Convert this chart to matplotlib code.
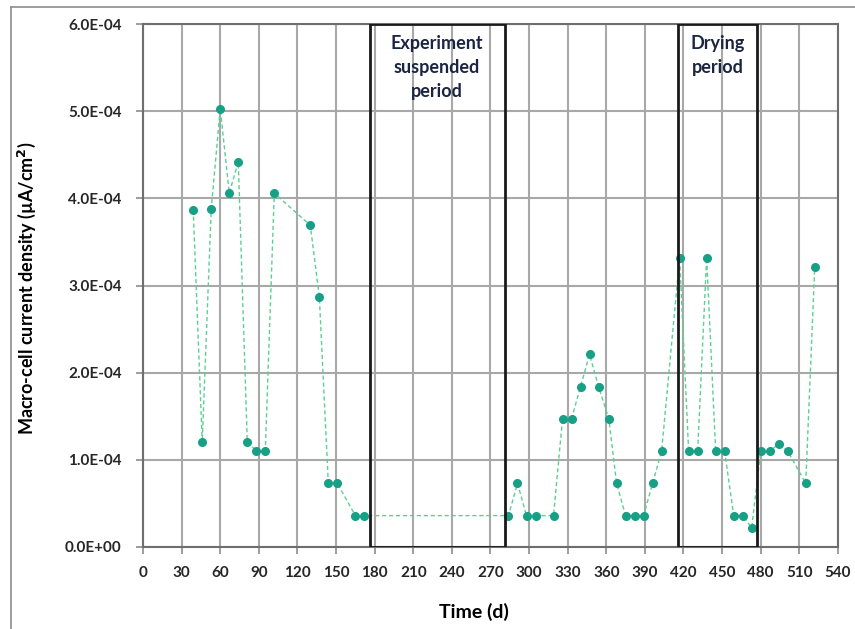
import matplotlib
matplotlib.use("Agg")
import matplotlib.pyplot as plt
from matplotlib.lines import Line2D
from matplotlib.patches import Rectangle
from matplotlib.ticker import FuncFormatter, MultipleLocator

plt.rcParams['font.family'] = ['Lato', 'DejaVu Sans']

# time (days) and macro-cell current density (uA/cm2)
days = [39, 46, 53, 60, 67, 74, 81, 88, 95, 102, 130, 137, 144, 151, 165, 172,
        284, 291, 298, 305, 319, 326, 333, 340, 347, 354, 362, 368, 375,
        382, 389, 396, 403, 417, 424, 431, 438, 445, 452, 459, 466, 473,
        480, 487, 494, 501, 515, 522]
density = [3.87e-4, 1.20e-4, 3.88e-4, 5.03e-4, 4.06e-4, 4.42e-4, 1.21e-4, 1.10e-4,
           1.10e-4, 4.06e-4, 3.69e-4, 2.87e-4, 0.73e-4, 0.73e-4, 0.36e-4, 0.36e-4,
           0.36e-4, 0.73e-4, 0.36e-4, 0.36e-4, 0.36e-4, 1.47e-4, 1.47e-4, 1.84e-4,
           2.21e-4, 1.84e-4, 1.47e-4, 0.73e-4, 0.36e-4,
           0.36e-4, 0.36e-4, 0.73e-4, 1.10e-4, 3.32e-4, 1.10e-4, 1.10e-4, 3.32e-4,
           1.10e-4, 1.10e-4, 0.36e-4, 0.36e-4, 0.22e-4,
           1.10e-4, 1.10e-4, 1.18e-4, 1.10e-4, 0.73e-4, 3.21e-4]

# marked periods: (start, end, label)
periods = [(176, 281, "Experiment\nsuspended\nperiod"),
           (416, 477, "Drying\nperiod")]

fig = plt.figure(figsize=(8.55, 6.29), dpi=100)
ax = fig.add_axes([0.1673, 0.1304, 0.8127, 0.8314])

# outer chart frame
fig.add_artist(Line2D([11 / 855, 1], [1 - 7 / 629, 1 - 7 / 629], color='#8c8c8c', lw=1.2))
fig.add_artist(Line2D([11 / 855, 11 / 855], [0, 1 - 7 / 629], color='#8c8c8c', lw=1.2))

ax.plot(days, density, linestyle='--', color='#5ccf97', lw=1.0, dashes=(3, 2),
        marker='o', markersize=5.5, markerfacecolor='#17a085', markeredgecolor='#17a085',
        zorder=3)

for start, end, label in periods:
    ax.add_patch(Rectangle((start, 0), end - start, 6e-4, fill=False,
                           edgecolor='#1a1a1a', lw=2, zorder=4))
    ax.text((start + end) / 2, 5.87e-4, label, ha='center', va='top',
            fontsize=13, fontweight='bold', color='#1b2440', linespacing=1.5, zorder=5)

ax.set_xlim(0, 540)
ax.set_ylim(0, 6e-4)
ax.xaxis.set_major_locator(MultipleLocator(30))
ax.yaxis.set_major_locator(MultipleLocator(1e-4))
ax.yaxis.set_major_formatter(FuncFormatter(lambda v, p: "%.1E" % v))
ax.grid(True, color='#a8a8a8', lw=1.5)
ax.set_axisbelow(True)
for s in ax.spines.values():
    s.set_color('#6e6e6e')
    s.set_linewidth(1.5)
ax.tick_params(direction='out', length=5, color='#8c8c8c', width=1.2,
               labelsize=11, labelcolor='#262626')
ax.tick_params(axis='y', pad=10.5)
ax.tick_params(axis='x', pad=9)
for lab in ax.get_xticklabels() + ax.get_yticklabels():
    lab.set_fontweight('bold')

ax.set_xlabel('Time (d)', fontsize=14, fontweight='bold')
ax.set_ylabel('Macro-cell current density (µA/cm$^\\mathbf{2}$)', fontsize=13,
              fontweight='bold')
ax.xaxis.set_label_coords(0.476, -0.124)
ax.yaxis.set_label_coords(-0.167, 0.494)
ax.xaxis.label.set_va('center')
ax.yaxis.label.set_va('center')

fig.savefig('out.png', dpi=100)
